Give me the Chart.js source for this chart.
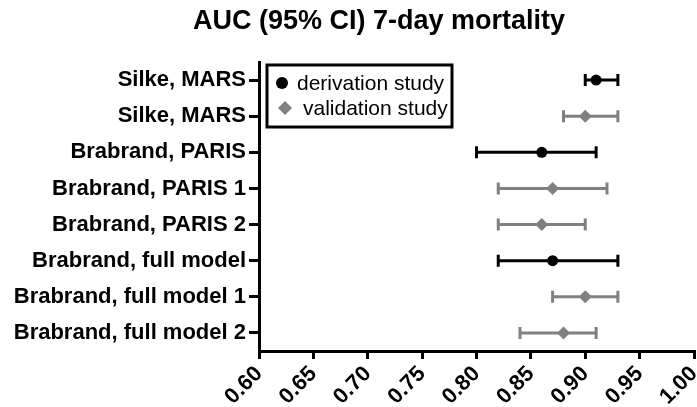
<!DOCTYPE html>
<html>
<head>
<meta charset="utf-8">
<style>
  html, body { margin: 0; padding: 0; background: #fff; }
  #wrap { width: 697px; height: 407px; }
</style>
<script src="https://cdn.jsdelivr.net/npm/chart.js@4/dist/chart.umd.min.js"></script>
</head>
<body>
<div id="wrap"><canvas id="aucChart" width="697" height="407"></canvas></div>
<script>
const FONT = '"Liberation Sans", Arial, sans-serif'

// one row per study / model, top to bottom
const categories = [
    'Silke, MARS',
    'Silke, MARS',
    'Brabrand, PARIS',
    'Brabrand, PARIS 1',
    'Brabrand, PARIS 2',
    'Brabrand, full model',
    'Brabrand, full model 1',
    'Brabrand, full model 2'
]
const studyType = ['derivation', 'validation', 'derivation', 'validation', 'validation', 'derivation', 'validation', 'validation']
const auc = [0.91, 0.90, 0.86, 0.87, 0.86, 0.87, 0.90, 0.88]
const ciLow = [0.90, 0.88, 0.80, 0.82, 0.82, 0.82, 0.87, 0.84]
const ciHigh = [0.93, 0.93, 0.91, 0.92, 0.90, 0.93, 0.93, 0.91]
const xTicks = [0.60, 0.65, 0.70, 0.75, 0.80, 0.85, 0.90, 0.95, 1.00]

const BLACK = '#000000'
const GREY = '#808080'

function rowsFor(type) {
    const rows = []
    categories.forEach((c, i) => {
        if (studyType[i] === type) rows.push({x: auc[i], y: i, lo: ciLow[i], hi: ciHigh[i]})
    })
    return rows
}

// horizontal CI whiskers with end caps, drawn under the points
const errorBars = {
    id: 'errorBars',
    beforeDatasetsDraw(chart) {
        const ctx = chart.ctx
        const xs = chart.scales.x, ys = chart.scales.y
        chart.data.datasets.forEach(ds => {
            ctx.save()
            ctx.strokeStyle = ds.borderColor
            ctx.lineWidth = 3
            ctx.lineCap = 'butt'
            ds.data.forEach(p => {
                const y = ys.getPixelForValue(p.y)
                const x1 = xs.getPixelForValue(p.lo)
                const x2 = xs.getPixelForValue(p.hi)
                ctx.beginPath()
                ctx.moveTo(x1, y); ctx.lineTo(x2, y)
                ctx.moveTo(x1, y - 6); ctx.lineTo(x1, y + 6)
                ctx.moveTo(x2, y - 6); ctx.lineTo(x2, y + 6)
                ctx.stroke()
            })
            ctx.restore()
        })
    }
}

// title and boxed legend
const decorations = {
    id: 'decorations',
    afterDraw(chart) {
        const ctx = chart.ctx
        const area = chart.chartArea
        ctx.save()
        ctx.fillStyle = BLACK
        ctx.font = 'bold 27px ' + FONT
        ctx.textAlign = 'center'
        ctx.textBaseline = 'alphabetic'
        ctx.fillText('AUC (95% CI) 7-day mortality', 379, 29)

        const lx = area.left + 8, ly = area.top + 3
        ctx.lineWidth = 3
        ctx.strokeStyle = BLACK
        ctx.strokeRect(lx, ly, 185, 62)

        ctx.beginPath()
        ctx.arc(lx + 15, ly + 18, 6, 0, Math.PI * 2)
        ctx.fill()

        ctx.fillStyle = GREY
        ctx.beginPath()
        ctx.moveTo(lx + 18 - 7, ly + 43)
        ctx.lineTo(lx + 18, ly + 36)
        ctx.lineTo(lx + 18 + 7, ly + 43)
        ctx.lineTo(lx + 18, ly + 50)
        ctx.closePath()
        ctx.fill()

        ctx.fillStyle = BLACK
        ctx.font = '21px ' + FONT
        ctx.textAlign = 'left'
        ctx.textBaseline = 'middle'
        ctx.fillText('derivation study', lx + 30, ly + 19)
        ctx.fillText('validation study', lx + 36, ly + 44)
        ctx.restore()
    }
}

const chart = new Chart(document.getElementById('aucChart').getContext('2d'), {
    type: 'scatter',
    data: {
        datasets: [
            {
                label: 'derivation study',
                data: rowsFor('derivation'),
                pointStyle: 'circle',
                pointRadius: 5.5,
                backgroundColor: BLACK,
                borderColor: BLACK,
                borderWidth: 0
            },
            {
                label: 'validation study',
                data: rowsFor('validation'),
                pointStyle: 'rectRot',
                pointRadius: 6.5,
                backgroundColor: GREY,
                borderColor: GREY,
                borderWidth: 0
            }
        ]
    },
    options: {
        responsive: false,
        animation: false,
        layout: {autoPadding: false, padding: {top: 62, right: 3, left: 0, bottom: 0}},
        plugins: {
            legend: {display: false},
            tooltip: {enabled: false}
        },
        scales: {
            x: {
                type: 'linear',
                min: 0.6,
                max: 1.0,
                afterBuildTicks: s => { s.ticks = xTicks.map(v => ({value: v})) },
                afterFit: s => {
                    s.height = 56
                    s.paddingLeft = 0
                    s.paddingRight = 0
                },
                border: {display: true, color: BLACK, width: 3},
                grid: {drawOnChartArea: false, drawTicks: true, tickLength: 8, color: BLACK, lineWidth: 3},
                ticks: {
                    color: BLACK,
                    font: {family: FONT, size: 22, weight: 'bold'},
                    minRotation: 45,
                    maxRotation: 45,
                    padding: 2,
                    callback: v => v.toFixed(2)
                }
            },
            y: {
                type: 'linear',
                reverse: true,
                min: -0.5,
                max: 7.5,
                afterBuildTicks: s => { s.ticks = categories.map((c, i) => ({value: i})) },
                afterFit: s => { s.width = 259 },
                border: {display: true, color: BLACK, width: 3},
                grid: {drawOnChartArea: false, drawTicks: true, tickLength: 10, color: BLACK, lineWidth: 3},
                ticks: {
                    color: BLACK,
                    font: {family: FONT, size: 22, weight: 'bold'},
                    padding: 3,
                    callback: v => categories[v]
                }
            }
        }
    },
    plugins: [errorBars, decorations]
})
</script>
</body>
</html>
